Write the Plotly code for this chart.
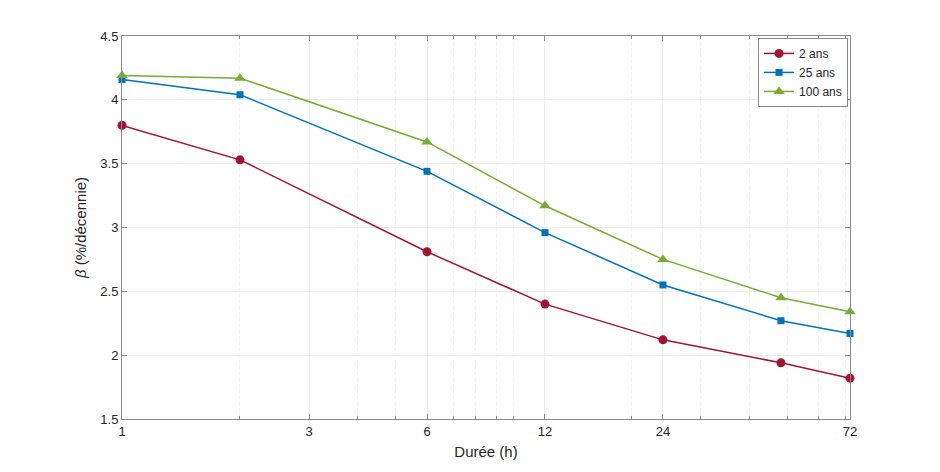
import plotly.graph_objects as go

durees = [1, 2, 6, 12, 24, 48, 72]
beta_2ans = [3.80, 3.53, 2.81, 2.40, 2.12, 1.94, 1.82]
beta_25ans = [4.16, 4.04, 3.44, 2.96, 2.55, 2.27, 2.17]
beta_100ans = [4.19, 4.17, 3.67, 3.17, 2.75, 2.45, 2.34]
series_names = ["2 ans", "25 ans", "100 ans"]
x_ticks = [1, 3, 6, 12, 24, 72]
x_minor = [2, 4, 5, 7, 8, 9, 10, 20, 30, 40, 50, 60, 70]

colors = ["#A2142F", "#0072BD", "#77AC30"]
symbols = ["circle", "square", "triangle-up"]
sizes = [9, 7, 10]

fig = go.Figure()
for name, vals, c, s, sz in zip(series_names, [beta_2ans, beta_25ans, beta_100ans], colors, symbols, sizes):
    fig.add_trace(go.Scatter(x=durees, y=vals, name=name, mode="lines+markers",
                             line=dict(color=c, width=1.5),
                             marker=dict(symbol=s, size=sz, color=c),
                             cliponaxis=False))

axis_col = "#8a8a8a"
font_col = "#262626"
fig.update_layout(
    width=940, height=472,
    margin=dict(l=122, r=90, t=36, b=53),
    paper_bgcolor="white", plot_bgcolor="white",
    font=dict(family="Liberation Sans, Arial", size=13, color=font_col),
    legend=dict(x=0.9973, y=0.995, xanchor="right", yanchor="top",
                bordercolor=axis_col, borderwidth=1, bgcolor="white",
                font=dict(size=12), tracegroupgap=0, itemwidth=30),
    xaxis=dict(type="log", range=[0, 1.85735], tickmode="array", tickvals=x_ticks,
               ticktext=[str(v) for v in x_ticks],
               showline=True, linecolor=axis_col, linewidth=1, mirror="ticks",
               ticks="inside", ticklen=5, tickcolor=axis_col,
               showgrid=True, gridcolor="#ebebeb", gridwidth=1,
               minor=dict(tickmode="array", tickvals=x_minor, ticks="inside", ticklen=3,
                          tickcolor=axis_col, showgrid=True, gridcolor="#f0f0f0", griddash="dot"),
               title=dict(text="Durée (h)", font=dict(size=15), standoff=8),
               zeroline=False),
    yaxis=dict(range=[1.5, 4.5], dtick=0.5, tick0=1.5,
               showline=True, linecolor=axis_col, linewidth=1, mirror="ticks",
               ticks="inside", ticklen=5, tickcolor=axis_col,
               showgrid=True, gridcolor="#ebebeb", gridwidth=1,
               title=dict(text="<i>β</i> (%/décennie)", font=dict(size=15), standoff=10),
               zeroline=False),
)

fig.write_html("out.html")
